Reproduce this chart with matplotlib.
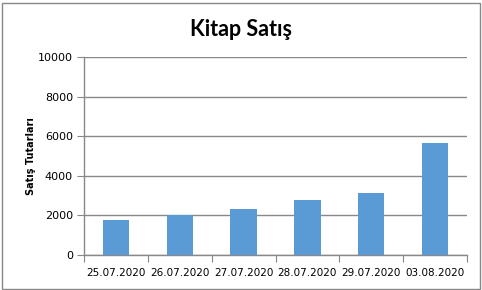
import matplotlib
matplotlib.use("Agg")
import matplotlib.pyplot as plt
from matplotlib.patches import Rectangle
import numpy as np

# donnees
tarihler = ["25.07.2020", "26.07.2020", "27.07.2020", "28.07.2020", "29.07.2020", "03.08.2020"]
satislar = [1770, 2000, 2330, 2780, 3130, 5660]
y_ticks = [0, 2000, 4000, 6000, 8000, 10000]

gri = "#888888"
mavi = "#5B9BD5"

fig = plt.figure(figsize=(4.82, 2.90), dpi=100)
ax = fig.add_axes([84/482, 1-255/290, (467-84)/482, (255-57)/290])

x = np.arange(len(tarihler))
ax.bar(x, satislar, width=0.41, color=mavi, zorder=3)

ax.set_xlim(-0.5, len(tarihler)-0.5)
ax.set_ylim(0, 10000)
ax.set_yticks(y_ticks)
ax.set_yticklabels([str(v) for v in y_ticks], fontsize=8, family="DejaVu Sans")
ax.yaxis.grid(True, color=gri, linewidth=1)
ax.set_axisbelow(True)

# graduations x aux limites des categories
ax.set_xticks(np.arange(len(tarihler)+1) - 0.5)
ax.set_xticklabels([])
ax.set_xticks(x, minor=True)
ax.set_xticklabels(tarihler, minor=True, fontsize=7.5, family="DejaVu Sans")
ax.tick_params(axis="x", which="major", length=5, color=gri, direction="out")
ax.tick_params(axis="x", which="minor", length=0, pad=9)
ax.tick_params(axis="y", length=5, color=gri, pad=3)

for s in ["top", "right"]:
    ax.spines[s].set_visible(False)
for s in ["left", "bottom"]:
    ax.spines[s].set_color(gri)
    ax.spines[s].set_linewidth(1)

ax.set_ylabel("Satış Tutarları", fontsize=7, fontweight="bold", family="DejaVu Sans")
ax.yaxis.set_label_coords(-0.125, 0.5)

fig.text(0.5, 1-29.5/290, "Kitap Satış", ha="center", va="center", fontsize=15.5, fontweight="bold", family="Lato")

fig.patches.append(Rectangle((1.5/482, 1.5/290), 478/482, 286/290, transform=fig.transFigure,
                             fill=False, edgecolor=gri, linewidth=1))

fig.savefig("out.png", dpi=100)
